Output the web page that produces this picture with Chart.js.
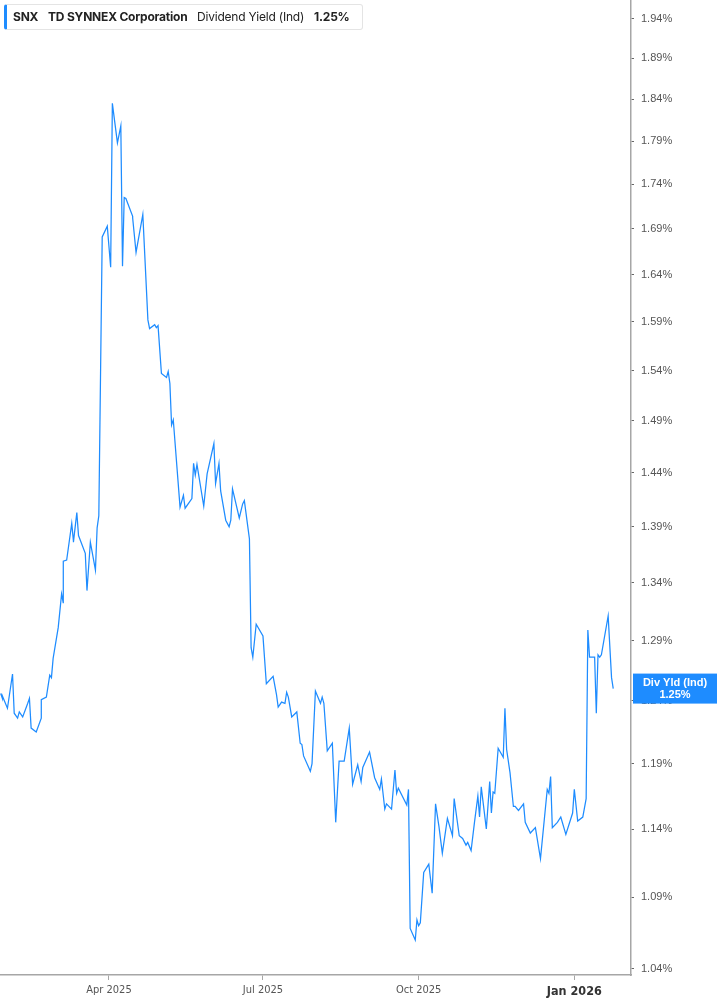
<!DOCTYPE html>
<html>
<head>
<meta charset="utf-8">
<script src="https://cdn.jsdelivr.net/npm/chart.js@4/dist/chart.umd.min.js"></script>
<style>
  html, body { margin: 0; padding: 0; background: #fff; }
  #wrap { position: relative; width: 717px; height: 1005px; }
  #header {
    position: absolute; left: 4px; top: 4px; height: 26px; width: 359px;
    border: 1px solid #e4e4e4; border-left: 3px solid #1e8cff; border-radius: 3px;
    background: #fff; font-family: Inter, "Noto Sans", sans-serif; font-size: 12px;
    letter-spacing: -0.2px; color: #222; line-height: 24px; white-space: nowrap; box-sizing: border-box;
  }
  #header span { position: absolute; top: 0; }
  .b { font-weight: 700; }
</style>
</head>
<body>
<div id="wrap">
  <canvas id="chart" width="717" height="1005"></canvas>
  <div id="header">
    <span class="b" style="left:6px">SNX</span>
    <span class="b" style="left:41px">TD SYNNEX Corporation</span>
    <span style="left:190px">Dividend Yield (Ind)</span>
    <span class="b" style="left:307px">1.25%</span>
  </div>
</div>
<script>
// days counted from 2025-01-01
const days = [
  26, 27, 27, 30, 33, 34, 36, 37, 39, 42, 43, 44, 47, 50, 50, 53, 55, 56, 57, 60,
  62, 63, 63, 65, 68, 69, 69, 71, 72, 76, 77, 79, 82, 83, 84, 86, 89, 91, 92, 95,
  97, 98, 99, 100, 104, 104, 106, 110, 113, 114, 117, 118, 119, 121, 124, 125, 126, 127, 128, 132,
  134, 135, 139, 140, 141, 142, 146, 148, 152, 153, 155, 156, 159, 161, 162, 163, 167, 169, 170, 173,
  174, 175, 177, 181, 183, 187, 189, 190, 192, 194, 195, 196, 198, 201, 203, 204, 205, 209, 210, 212,
  215, 216, 217, 219, 222, 224, 226, 229, 232, 234, 237, 239, 240, 244, 247, 250, 251, 253, 254, 257,
  259, 260, 261, 266, 267, 268, 271, 272, 273, 274, 276, 279, 281, 283, 285, 287, 290, 293, 294, 297,
  299, 301, 302, 304, 306, 308, 309, 310, 313, 315, 316, 317, 318, 320, 323, 324, 325, 327, 329, 330,
  332, 335, 336, 339, 342, 345, 349, 350, 351, 352, 355, 357, 360, 364, 365, 367, 370, 372, 373, 374,
  377, 378, 379, 380, 381, 385, 387, 388
];
const yields = [
  1.246, 1.242, 1.244, 1.234, 1.262, 1.230, 1.226, 1.231, 1.227, 1.238, 1.242, 1.218, 1.215, 1.226, 1.241, 1.243, 1.261, 1.259, 1.275, 1.301,
  1.330, 1.322, 1.359, 1.360, 1.393, 1.377, 1.376, 1.403, 1.382, 1.366, 1.333, 1.376, 1.351, 1.389, 1.400, 1.681, 1.693, 1.648, 1.835, 1.788,
  1.808, 1.649, 1.725, 1.724, 1.704, 1.702, 1.664, 1.706, 1.592, 1.583, 1.587, 1.584, 1.586, 1.537, 1.533, 1.539, 1.527, 1.486, 1.491, 1.408,
  1.419, 1.407, 1.416, 1.449, 1.438, 1.448, 1.409, 1.439, 1.468, 1.430, 1.449, 1.423, 1.396, 1.390, 1.396, 1.425, 1.398, 1.411, 1.414, 1.379,
  1.284, 1.276, 1.304, 1.294, 1.254, 1.260, 1.245, 1.235, 1.239, 1.238, 1.247, 1.243, 1.227, 1.231, 1.206, 1.205, 1.196, 1.184, 1.190, 1.248,
  1.238, 1.243, 1.238, 1.200, 1.206, 1.145, 1.192, 1.192, 1.218, 1.174, 1.189, 1.176, 1.187, 1.199, 1.179, 1.170, 1.178, 1.155, 1.159, 1.155,
  1.185, 1.167, 1.171, 1.158, 1.170, 1.068, 1.060, 1.074, 1.070, 1.072, 1.108, 1.114, 1.093, 1.159, 1.142, 1.122, 1.148, 1.135, 1.163, 1.135,
  1.133, 1.128, 1.130, 1.124, 1.145, 1.165, 1.149, 1.172, 1.140, 1.176, 1.152, 1.168, 1.167, 1.202, 1.195, 1.234, 1.201, 1.183, 1.157, 1.157,
  1.154, 1.159, 1.145, 1.137, 1.141, 1.118, 1.170, 1.167, 1.180, 1.141, 1.145, 1.149, 1.136, 1.152, 1.170, 1.146, 1.149, 1.163, 1.299, 1.276,
  1.276, 1.230, 1.278, 1.276, 1.278, 1.311, 1.259, 1.25
];
const xTickDays = [90, 181, 273, 365];
const xTickLabels = ["Apr 2025", "Jul 2025", "Oct 2025", "Jan 2026"];
const yTicks = [1.04, 1.09, 1.14, 1.19, 1.24, 1.29, 1.34, 1.39, 1.44, 1.49, 1.54, 1.59, 1.64, 1.69, 1.74, 1.79, 1.84, 1.89, 1.94];
const lastLabel = ["Div Yld (Ind)", "1.25%"];

const lineColor = "#1e8cff";
const axisColor = "#a6a6a6";

const points = days.map((d, i) => ({ x: d, y: yields[i] }));

// no extra room for the labels at the ends of the axes
const noPad = (axis) => {
  axis.paddingTop = 0;
  axis.paddingBottom = 0;
  axis.paddingLeft = 0;
  axis.paddingRight = 0;
};

const lastValuePlugin = {
  id: "lastValue",
  afterDraw(chart) {
    const ctx = chart.ctx;
    const yScale = chart.scales.y;
    const cy = yScale.getPixelForValue(yields[yields.length - 1]);
    const left = chart.chartArea.right + 2;
    ctx.save();
    ctx.fillStyle = lineColor;
    ctx.fillRect(left, cy - 15, 717 - left, 30);
    ctx.fillStyle = "#fff";
    ctx.font = "bold 11px 'Liberation Sans', Arial, sans-serif";
    ctx.textAlign = "center";
    ctx.textBaseline = "middle";
    const cx = left + (717 - left) / 2;
    ctx.fillText(lastLabel[0], cx, cy - 6);
    ctx.fillText(lastLabel[1], cx, cy + 6);
    ctx.restore();
  }
};

const config = {
  type: "line",
  data: {
    datasets: [{
      data: points,
      borderColor: lineColor,
      borderWidth: 1.25,
      pointRadius: 0,
      tension: 0,
      fill: false,
    }],
  },
  options: {
    responsive: false,
    animation: false,
    layout: { padding: 0 },
    plugins: { legend: { display: false }, tooltip: { enabled: false } },
    scales: {
      x: {
        type: "linear",
        min: 25.6,
        max: 398.5,
        afterBuildTicks: (axis) => { axis.ticks = xTickDays.map((v) => ({ value: v })); },
        afterFit: (axis) => { axis.height = 30; noPad(axis); },
        border: { color: axisColor, width: 1.5 },
        grid: { drawOnChartArea: false, color: axisColor, tickLength: 5 },
        ticks: {
          autoSkip: false,
          maxRotation: 0,
          padding: 4,
          color: (c) => (c.tick && c.tick.value === 365 ? "#333" : "#555"),
          font: (c) => (c.tick && c.tick.value === 365
            ? { family: "'Liberation Sans Narrow', 'DejaVu Sans Condensed', sans-serif", size: 12.5, weight: "bold" }
            : { family: "'Liberation Sans Narrow', 'DejaVu Sans Condensed', sans-serif", size: 11 }),
          callback: (v) => xTickLabels[xTickDays.indexOf(v)],
        },
      },
      y: {
        type: "logarithmic",
        position: "right",
        min: 1.0359,
        max: 1.9637,
        afterBuildTicks: (axis) => { axis.ticks = yTicks.map((v) => ({ value: v })); },
        afterFit: (axis) => { axis.width = 86; noPad(axis); },
        border: { color: axisColor, width: 1.5 },
        grid: { drawOnChartArea: false, color: "#666", tickLength: 3 },
        ticks: {
          autoSkip: false,
          padding: 7,
          color: "#555",
          font: { family: "'Liberation Sans', Arial, sans-serif", size: 11 },
          callback: (v) => v.toFixed(2) + "%",
        },
      },
    },
  },
  plugins: [lastValuePlugin],
};

const myChart = document.getElementById("chart");
new Chart(myChart, config);
</script>
</body>
</html>
